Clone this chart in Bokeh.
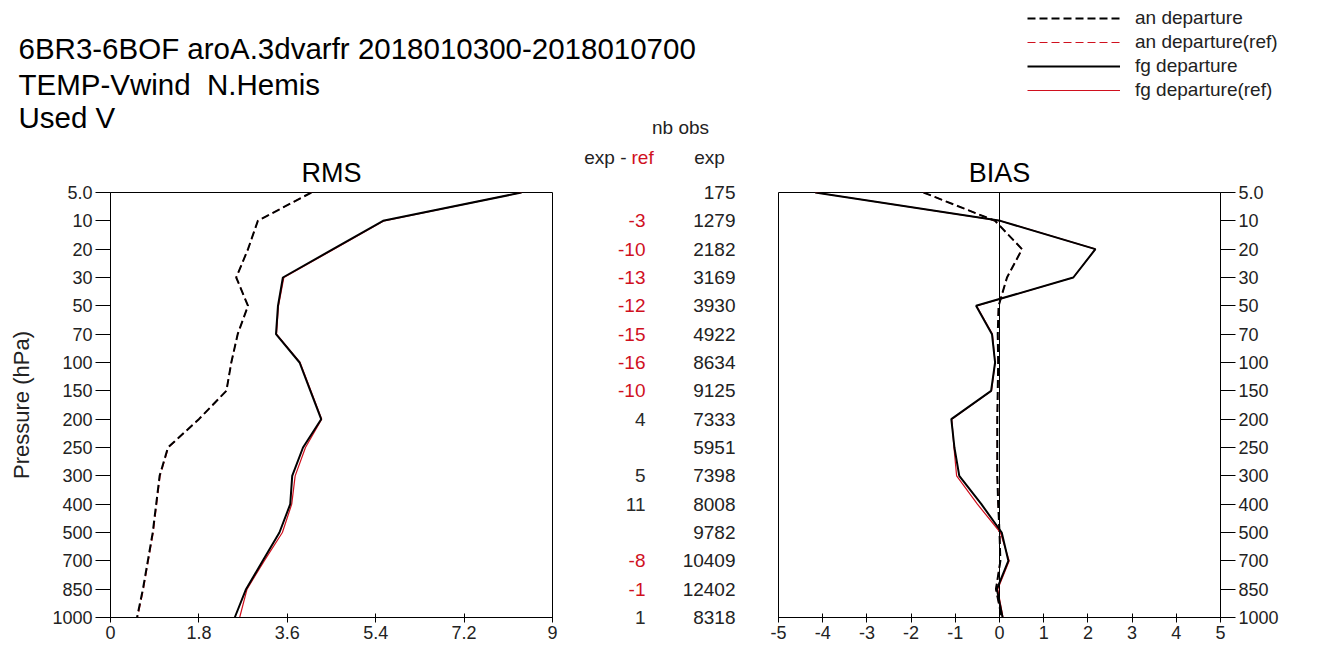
from bokeh.plotting import figure
from bokeh.models import Range1d, FixedTicker, Span, Legend, LegendItem, ColumnDataSource
from bokeh.layouts import column, row
from bokeh.embed import file_html
from bokeh.resources import INLINE
from bokeh.core.properties import value

# ---------------- data ----------------
levels = ["5.0", "10", "20", "30", "50", "70", "100", "150", "200", "250",
          "300", "400", "500", "700", "850", "1000"]

rms_an = [4.09, 3.00, 2.80, 2.56, 2.80, 2.59, 2.46, 2.36, 1.80, 1.17,
          1.00, 0.93, 0.86, 0.76, 0.66, 0.54]
rms_an_ref = [4.09, 3.00, 2.80, 2.56, 2.80, 2.59, 2.46, 2.36, 1.80, 1.18,
              1.01, 0.94, 0.87, 0.77, 0.67, 0.55]
rms_fg = [8.37, 5.55, 4.53, 3.51, 3.41, 3.37, 3.85, 4.07, 4.29, 3.92,
          3.70, 3.66, 3.44, 3.10, 2.76, 2.53]
rms_fg_ref = [8.37, 5.57, 4.55, 3.53, 3.42, 3.38, 3.86, 4.08, 4.30, 3.97,
              3.76, 3.69, 3.50, 3.13, 2.78, 2.63]

bias_an = [-1.72, -0.10, 0.51, 0.17, -0.02, -0.04, -0.03, -0.04, -0.05, -0.05,
           -0.05, -0.03, 0.00, 0.02, -0.08, 0.05]
bias_an_ref = [-1.72, -0.10, 0.51, 0.17, -0.02, -0.04, -0.03, -0.04, -0.05, -0.05,
               -0.05, -0.03, 0.00, 0.02, -0.08, 0.05]
bias_fg = [-4.17, 0.02, 2.17, 1.67, -0.53, -0.17, -0.10, -0.19, -1.09, -1.02,
           -0.91, -0.41, 0.05, 0.20, -0.06, 0.07]
bias_fg_ref = [-4.17, 0.02, 2.17, 1.67, -0.52, -0.16, -0.10, -0.18, -1.08, -1.03,
               -0.97, -0.50, 0.02, 0.22, -0.04, 0.08]

nobs_exp = [175, 1279, 2182, 3169, 3930, 4922, 8634, 9125, 7333, 5951,
            7398, 8008, 9782, 10409, 12402, 8318]
nobs_diff = [None, -3, -10, -13, -12, -15, -16, -10, 4, None,
             5, 11, None, -8, -1, 1]

title_lines = ["6BR3-6BOF aroA.3dvarfr 2018010300-2018010700",
               "TEMP-Vwind\u00a0 N.Hemis",
               "Used V"]
legend_labels = ["an departure", "an departure(ref)", "fg departure", "fg departure(ref)"]

rms_ticks = [0, 1.8, 3.6, 5.4, 7.2, 9]
rms_tick_labels = ["0", "1.8", "3.6", "5.4", "7.2", "9"]
bias_ticks = [-5, -4, -3, -2, -1, 0, 1, 2, 3, 4, 5]
bias_tick_labels = ["-5", "-4", "-3", "-2", "-1", "0", "1", "2", "3", "4", "5"]

# ---------------- style ----------------
FONT = "Liberation Sans"
RED = "#d0101e"
TXT = "#222222"
DASH = "8 4"
idx = list(range(len(levels)))
N = len(levels) - 1
HDR_H = 140
ROW_H = 525
B_TOP = 52
B_BOT = 48
PX_PER = (ROW_H - B_TOP - B_BOT) / N


def panel(width, bl, br, xr, ticks, tick_labels, yloc, title):
    p = figure(width=width, height=ROW_H, x_range=xr, y_range=Range1d(N, 0),
               output_backend="svg", toolbar_location=None,
               min_border_left=bl, min_border_right=br,
               min_border_top=B_TOP, min_border_bottom=B_BOT,
               y_axis_location=yloc, title=title)
    p.title.align = "center"
    p.title.text_font = FONT
    p.title.text_font_size = "27px"
    p.title.text_font_style = "normal"
    p.title.text_color = "black"
    p.grid.visible = False
    p.outline_line_color = "black"
    p.outline_line_width = 1
    p.xaxis.ticker = FixedTicker(ticks=ticks)
    p.xaxis.major_label_overrides = {t: l for t, l in zip(ticks, tick_labels)}
    p.yaxis.ticker = FixedTicker(ticks=idx)
    p.yaxis.major_label_overrides = {i: l for i, l in zip(idx, levels)}
    for ax in (p.xaxis, p.yaxis):
        ax.minor_tick_line_color = None
        ax.axis_line_color = "black"
        ax.major_tick_line_color = "black"
        ax.major_label_text_font = FONT
        ax.major_label_text_font_size = "18px"
        ax.major_label_text_color = TXT
    p.xaxis.major_tick_in = 4
    p.xaxis.major_tick_out = 5
    p.xaxis.major_label_standoff = 3
    p.yaxis.major_tick_in = 0
    p.yaxis.major_tick_out = 15
    p.yaxis.major_label_standoff = 3
    return p


def draw(p, an, an_ref, fg, fg_ref):
    p.line(an_ref, idx, line_color=RED, line_width=1.2, line_dash=DASH)
    p.line(an, idx, line_color="black", line_width=2, line_dash=DASH)
    p.line(fg_ref, idx, line_color=RED, line_width=1.2)
    p.line(fg, idx, line_color="black", line_width=2)


# RMS panel
p_rms = panel(570, 110, 18, Range1d(0, 9), rms_ticks, rms_tick_labels, "left", "RMS")
p_rms.yaxis.axis_label = "Pressure (hPa)"
p_rms.yaxis.axis_label_text_font = FONT
p_rms.yaxis.axis_label_text_font_size = "22px"
p_rms.yaxis.axis_label_text_font_style = "normal"
p_rms.yaxis.axis_label_text_color = TXT
p_rms.yaxis.axis_label_standoff = 15
draw(p_rms, rms_an, rms_an_ref, rms_fg, rms_fg_ref)

# BIAS panel
p_bias = panel(570, 18, 110, Range1d(-5, 5), bias_ticks, bias_tick_labels, "right", "BIAS")
p_bias.add_layout(Span(location=0, dimension="height", line_color="black", line_width=1))
draw(p_bias, bias_an, bias_an_ref, bias_fg, bias_fg_ref)

# middle column (nb obs): its own frame spans the full figure height
y_top = -B_TOP / PX_PER
y_bot = N + B_BOT / PX_PER
p_mid = figure(width=190, height=ROW_H, x_range=Range1d(570, 760),
               y_range=Range1d(y_bot, y_top),
               output_backend="svg", toolbar_location=None, min_border=0,
               x_axis_location=None, y_axis_location=None)
p_mid.frame_align = False
p_mid.grid.visible = False
p_mid.outline_line_color = None

d_x, d_y, d_t, d_c = [], [], [], []
for i, d in enumerate(nobs_diff):
    if d is None:
        continue
    d_x.append(645)
    d_y.append(i)
    d_t.append(str(d))
    d_c.append(RED if d < 0 else "#2a2a2a")
p_mid.text(x="x", y="y", text="t", text_color="c",
           source=ColumnDataSource(dict(x=d_x, y=d_y, t=d_t, c=d_c)),
           text_align="right", text_baseline="middle",
           text_font=value(FONT), text_font_size="19px")
p_mid.text(x=[735] * len(nobs_exp), y=idx, text=[str(v) for v in nobs_exp],
           text_color=TXT, text_align="right", text_baseline="middle",
           text_font=value(FONT), text_font_size="19px")
hy = (157 - (HDR_H + B_TOP)) / PX_PER
p_mid.text(x=[626, 709], y=[hy, hy], text=["exp -", "exp"], text_color=TXT,
           text_align=["right", "center"], text_baseline="middle",
           text_font=value(FONT), text_font_size="19px")
p_mid.text(x=[631], y=[hy], text=["ref"], text_color=RED,
           text_align="left", text_baseline="middle",
           text_font=value(FONT), text_font_size="19px")

# header (titles, legend)
p_hdr = figure(width=1330, height=HDR_H, x_range=Range1d(0, 1330), y_range=Range1d(HDR_H, 0),
               output_backend="svg", toolbar_location=None, min_border=0,
               x_axis_location=None, y_axis_location=None)
p_hdr.grid.visible = False
p_hdr.outline_line_color = None
p_hdr.text(x=[18, 18, 18], y=[48, 84, 117], text=title_lines, text_color="black",
           text_align="left", text_baseline="middle",
           text_font=value(FONT), text_font_size="29.5px")
p_hdr.text(x=[680], y=[127], text=["nb obs"], text_color=TXT,
           text_align="center", text_baseline="middle",
           text_font=value(FONT), text_font_size="19px")

styles = [("black", 2, DASH), (RED, 1.2, DASH), ("black", 2, "solid"), (RED, 1.2, "solid")]
items = []
for lab, (c, w, dsh) in zip(legend_labels, styles):
    r = p_hdr.line(x=[-20, -10], y=[-20, -20], line_color=c, line_width=w, line_dash=dsh)
    items.append(LegendItem(label=lab, renderers=[r]))
leg = Legend(items=items, location=(1027, HDR_H - 102), glyph_width=93, glyph_height=24,
             label_height=24, label_standoff=15, spacing=0, padding=0, margin=0,
             border_line_color=None, background_fill_alpha=0,
             label_text_font=FONT, label_text_font_size="19px", label_text_color=TXT)
p_hdr.add_layout(leg)

layout = column(p_hdr, row(p_rms, p_mid, p_bias))
open("out.html", "w").write(file_html(layout, INLINE))
